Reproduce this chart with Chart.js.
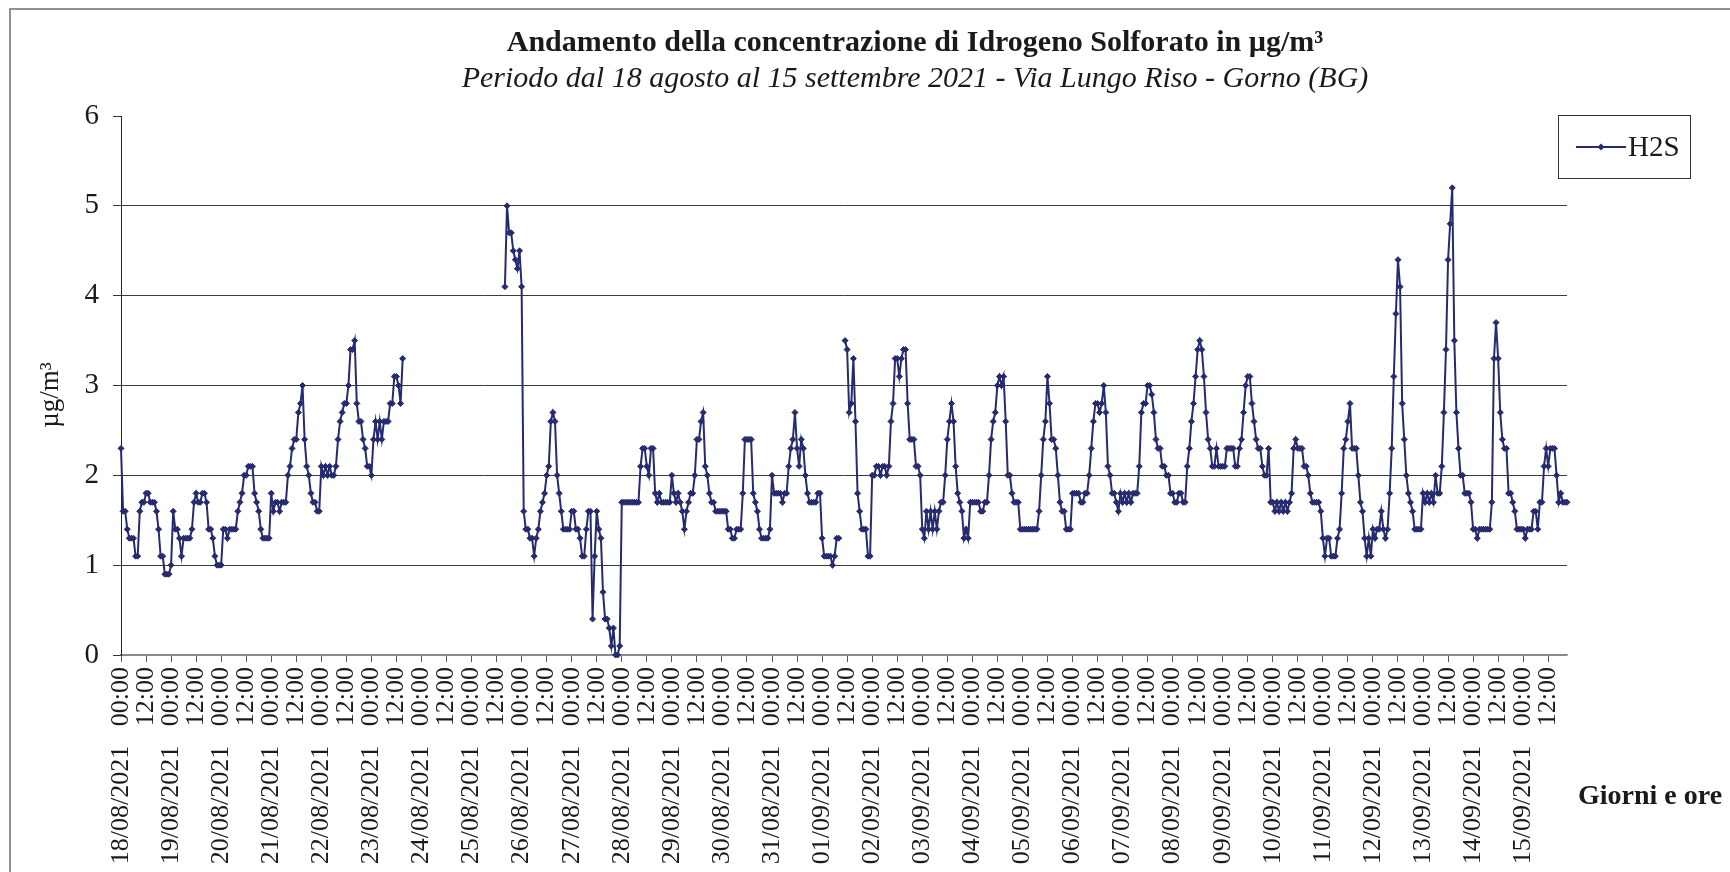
<!DOCTYPE html>
<html><head><meta charset="utf-8">
<script src="https://cdn.jsdelivr.net/npm/chart.js@4.4.1/dist/chart.umd.min.js"></script>
<style>html,body{margin:0;padding:0;background:#fff;overflow:hidden}</style>
</head><body>
<canvas id="c" width="1730" height="872"></canvas>
<script>
const titleText = 'Andamento della concentrazione di Idrogeno Solforato in \u00b5g/m\u00b3';
const subtitleText = 'Periodo dal 18 agosto al 15 settembre 2021 - Via Lungo Riso - Gorno (BG)';
const yAxisTitle = '\u00b5g/m\u00b3';
const xAxisTitle = 'Giorni e ore';
const seriesName = 'H2S';
const yTicks = [0, 1, 2, 3, 4, 5, 6];
const days = ['18/08/2021','19/08/2021','20/08/2021','21/08/2021','22/08/2021','23/08/2021','24/08/2021','25/08/2021','26/08/2021','27/08/2021','28/08/2021','29/08/2021','30/08/2021','31/08/2021','01/09/2021','02/09/2021','03/09/2021','04/09/2021','05/09/2021','06/09/2021','07/09/2021','08/09/2021','09/09/2021','10/09/2021','11/09/2021','12/09/2021','13/09/2021','14/09/2021','15/09/2021'];
const hours = ['00:00','01:00','02:00','03:00','04:00','05:00','06:00','07:00','08:00','09:00','10:00','11:00','12:00','13:00','14:00','15:00','16:00','17:00','18:00','19:00','20:00','21:00','22:00','23:00'];

// hourly H2S values (µg/m³), one array per day
const aug18 = [2.3,1.6,1.6,1.4,1.3,1.3,1.3,1.1,1.1,1.6,1.7,1.7,1.8,1.8,1.7,1.7,1.7,1.6,1.4,1.1,1.1,0.9,0.9,0.9];
const aug19 = [1.0,1.6,1.4,1.4,1.3,1.1,1.3,1.3,1.3,1.3,1.4,1.7,1.8,1.7,1.7,1.8,1.8,1.7,1.4,1.4,1.3,1.1,1.0,1.0];
const aug20 = [1.0,1.4,1.4,1.3,1.4,1.4,1.4,1.4,1.6,1.7,1.8,2.0,2.0,2.1,2.1,2.1,1.8,1.7,1.6,1.4,1.3,1.3,1.3,1.3];
const aug21 = [1.8,1.6,1.7,1.7,1.6,1.7,1.7,1.7,2.0,2.1,2.3,2.4,2.4,2.7,2.8,3.0,2.4,2.1,2.0,1.8,1.7,1.7,1.6,1.6];
const aug22 = [2.1,2.0,2.1,2.0,2.1,2.0,2.0,2.1,2.4,2.6,2.7,2.8,2.8,3.0,3.4,3.4,3.5,2.8,2.6,2.6,2.4,2.3,2.1,2.1];
const aug23 = [2.0,2.4,2.6,2.4,2.6,2.4,2.6,2.6,2.6,2.8,2.8,3.1,3.1,3.0,2.8,3.3,null,null,null,null,null,null,null,null];
const aug24 = [null,null,null,null,null,null,null,null,null,null,null,null,null,null,null,null,null,null,null,null,null,null,null,null];
const aug25 = [null,null,null,null,null,null,null,null,null,null,null,null,null,null,null,null,4.1,5.0,4.7,4.7,4.5,4.4,4.3,4.5];
const aug26 = [4.1,1.6,1.4,1.4,1.3,1.3,1.1,1.3,1.4,1.6,1.7,1.8,2.0,2.1,2.6,2.7,2.6,2.0,1.8,1.6,1.4,1.4,1.4,1.4];
const aug27 = [1.6,1.6,1.4,1.4,1.3,1.1,1.1,1.4,1.6,1.6,0.4,1.1,1.6,1.4,1.3,0.7,0.4,0.4,0.3,0.1,0.3,0.0,0.0,0.1];
const aug28 = [1.7,1.7,1.7,1.7,1.7,1.7,1.7,1.7,1.7,2.1,2.3,2.3,2.1,2.0,2.3,2.3,1.8,1.7,1.8,1.7,1.7,1.7,1.7,1.7];
const aug29 = [2.0,1.8,1.7,1.8,1.7,1.6,1.4,1.6,1.7,1.8,1.8,2.0,2.4,2.4,2.6,2.7,2.1,2.0,1.8,1.7,1.7,1.6,1.6,1.6];
const aug30 = [1.6,1.6,1.6,1.4,1.4,1.3,1.3,1.4,1.4,1.4,1.8,2.4,2.4,2.4,2.4,1.8,1.7,1.6,1.4,1.3,1.3,1.3,1.3,1.4];
const aug31 = [2.0,1.8,1.8,1.8,1.8,1.7,1.8,1.8,2.1,2.3,2.4,2.7,2.3,2.1,2.4,2.3,2.0,1.8,1.7,1.7,1.7,1.7,1.8,1.8];
const sep01 = [1.3,1.1,1.1,1.1,1.1,1.0,1.1,1.3,1.3,null,null,3.5,3.4,2.7,2.8,3.3,2.6,1.8,1.6,1.4,1.4,1.4,1.1,1.1];
const sep02 = [2.0,2.0,2.1,2.1,2.0,2.1,2.1,2.0,2.1,2.6,2.8,3.3,3.3,3.1,3.3,3.4,3.4,2.8,2.4,2.4,2.4,2.1,2.1,2.0];
const sep03 = [1.4,1.3,1.6,1.4,1.6,1.4,1.6,1.4,1.6,1.7,1.7,2.0,2.4,2.6,2.8,2.6,2.1,1.8,1.7,1.6,1.3,1.4,1.3,1.7];
const sep04 = [1.7,1.7,1.7,1.7,1.6,1.6,1.7,1.7,2.0,2.4,2.6,2.7,3.0,3.1,3.0,3.1,2.6,2.0,2.0,1.8,1.7,1.7,1.7,1.4];
const sep05 = [1.4,1.4,1.4,1.4,1.4,1.4,1.4,1.4,1.6,2.0,2.4,2.6,3.1,2.8,2.4,2.4,2.3,2.0,1.7,1.6,1.6,1.4,1.4,1.4];
const sep06 = [1.8,1.8,1.8,1.8,1.7,1.7,1.8,1.8,2.0,2.3,2.6,2.8,2.8,2.7,2.8,3.0,2.7,2.1,2.0,1.8,1.8,1.7,1.6,1.8];
const sep07 = [1.7,1.8,1.7,1.8,1.7,1.8,1.8,1.8,2.1,2.7,2.8,2.8,3.0,3.0,2.9,2.7,2.4,2.3,2.3,2.1,2.1,2.0,2.0,1.8];
const sep08 = [1.8,1.7,1.7,1.8,1.8,1.7,1.7,2.1,2.3,2.6,2.8,3.1,3.4,3.5,3.4,3.1,2.7,2.4,2.3,2.1,2.1,2.3,2.1,2.1];
const sep09 = [2.1,2.1,2.3,2.3,2.3,2.3,2.1,2.1,2.3,2.4,2.7,3.0,3.1,3.1,2.8,2.6,2.4,2.3,2.3,2.1,2.0,2.0,2.3,1.7];
const sep10 = [1.7,1.6,1.7,1.6,1.7,1.6,1.7,1.6,1.7,1.8,2.3,2.4,2.3,2.3,2.3,2.1,2.1,2.0,1.8,1.7,1.7,1.7,1.7,1.6];
const sep11 = [1.3,1.1,1.3,1.3,1.1,1.1,1.1,1.3,1.4,1.8,2.3,2.4,2.6,2.8,2.3,2.3,2.3,2.0,1.7,1.6,1.3,1.1,1.3,1.1];
const sep12 = [1.4,1.3,1.4,1.4,1.6,1.4,1.3,1.4,1.8,2.3,3.1,3.8,4.4,4.1,2.8,2.4,2.0,1.8,1.7,1.6,1.4,1.4,1.4,1.4];
const sep13 = [1.8,1.7,1.8,1.7,1.8,1.7,2.0,1.8,1.8,2.1,2.7,3.4,4.4,4.8,5.2,3.5,2.7,2.3,2.0,2.0,1.8,1.8,1.8,1.7];
const sep14 = [1.4,1.4,1.3,1.4,1.4,1.4,1.4,1.4,1.4,1.7,3.3,3.7,3.3,2.7,2.4,2.3,2.3,1.8,1.8,1.7,1.6,1.4,1.4,1.4];
const sep15 = [1.4,1.3,1.4,1.4,1.4,1.6,1.6,1.4,1.7,1.7,2.1,2.3,2.1,2.3,2.3,2.3,2.0,1.7,1.8,1.7,1.7,1.7];

const dailyArrays = [aug18,aug19,aug20,aug21,aug22,aug23,aug24,aug25,aug26,aug27,aug28,aug29,aug30,aug31,
  sep01,sep02,sep03,sep04,sep05,sep06,sep07,sep08,sep09,sep10,sep11,sep12,sep13,sep14,sep15];

const categories = [];
const values = [];
dailyArrays.forEach((arr, d) => {
  arr.forEach((v, h) => { categories.push(days[d] + ' ' + hours[h]); values.push(v); });
});

const TXT = '#1a1a1a';
const LINE = '#262b70';
const SERIF = '"Liberation Serif", "Times New Roman", serif';

const decor = {
  id: 'decor',
  afterDraw(chart) {
    const ctx = chart.ctx;
    ctx.save();
    // outer frame
    ctx.strokeStyle = '#6e6e6e'; ctx.lineWidth = 1.5;
    ctx.beginPath(); ctx.moveTo(10, 872); ctx.lineTo(10, 9); ctx.lineTo(1730, 9); ctx.stroke();
    // titles
    ctx.fillStyle = TXT; ctx.textAlign = 'center'; ctx.textBaseline = 'alphabetic';
    ctx.font = 'bold 30px ' + SERIF; ctx.fillText(titleText, 915, 51);
    ctx.font = 'italic 30px ' + SERIF; ctx.fillText(subtitleText, 915, 87);
    // y axis title
    ctx.save(); ctx.translate(51, 395); ctx.rotate(-Math.PI / 2);
    ctx.font = '27px ' + SERIF; ctx.textBaseline = 'middle'; ctx.fillText(yAxisTitle, 0, 0);
    ctx.restore();
    // x axis title
    ctx.font = 'bold 28px ' + SERIF; ctx.textAlign = 'left'; ctx.textBaseline = 'middle';
    ctx.fillText(xAxisTitle, 1578, 797);
    // legend
    const ds = chart.data.datasets[0];
    ctx.strokeStyle = '#333'; ctx.lineWidth = 1;
    ctx.strokeRect(1558.5, 115.5, 132, 63);
    ctx.strokeStyle = ds.borderColor; ctx.lineWidth = 2;
    ctx.beginPath(); ctx.moveTo(1576, 147); ctx.lineTo(1626, 147); ctx.stroke();
    ctx.fillStyle = ds.borderColor;
    ctx.beginPath(); ctx.moveTo(1601, 143.5); ctx.lineTo(1604.5, 147); ctx.lineTo(1601, 150.5); ctx.lineTo(1597.5, 147); ctx.closePath(); ctx.fill();
    ctx.fillStyle = TXT; ctx.font = '29px ' + SERIF; ctx.textAlign = 'left'; ctx.textBaseline = 'middle';
    ctx.fillText(ds.label, 1628, 148);
    ctx.restore();
  }
};

new Chart(document.getElementById('c'), {
  type: 'line',
  data: {
    labels: categories,
    datasets: [{
      label: seriesName,
      data: values,
      borderColor: LINE,
      backgroundColor: LINE,
      borderWidth: 2,
      pointStyle: 'rectRot',
      pointRadius: 3,
      pointBorderWidth: 1,
      pointBackgroundColor: LINE,
      pointBorderColor: LINE,
      tension: 0,
      spanGaps: false,
      clip: false
    }]
  },
  options: {
    responsive: false,
    animation: false,
    devicePixelRatio: 1,
    layout: { padding: { top: 116, right: 163, left: 0, bottom: 0 } },
    plugins: { legend: { display: false }, tooltip: { enabled: false }, title: { display: false } },
    scales: {
      x: {
        type: 'category',
        offset: false,
        afterFit(scale) { scale.height = 217; },
        border: { display: true, color: '#8a8a8a', width: 1.5 },
        grid: { drawOnChartArea: false, drawTicks: true, tickLength: 7, color: '#555', tickColor: '#555' },
        ticks: {
          autoSkip: false, maxRotation: 90, minRotation: 90, padding: 5,
          color: TXT, font: { family: SERIF, size: 26 },
          callback(value, index) {
            const parts = categories[index].split(' ');
            if (parts[1] === '00:00') return parts[0] + '\u00a0\u00a0\u00a0' + parts[1];
            if (parts[1] === '12:00') return parts[1];
            return null;
          }
        }
      },
      y: {
        min: yTicks[0], max: yTicks[yTicks.length - 1],
        afterFit(scale) { scale.width = 121; },
        border: { display: true, color: '#222', width: 1 },
        grid: {
          tickLength: 8,
          color: (c) => c.tick.value === 6 ? 'rgba(0,0,0,0)' : (c.tick.value === 0 ? '#8a8a8a' : '#3c3c3c'),
          tickColor: '#333',
          lineWidth: 1
        },
        ticks: { stepSize: 1, padding: 14, color: TXT, font: { family: SERIF, size: 29 } }
      }
    }
  },
  plugins: [decor]
});
</script>
</body></html>
